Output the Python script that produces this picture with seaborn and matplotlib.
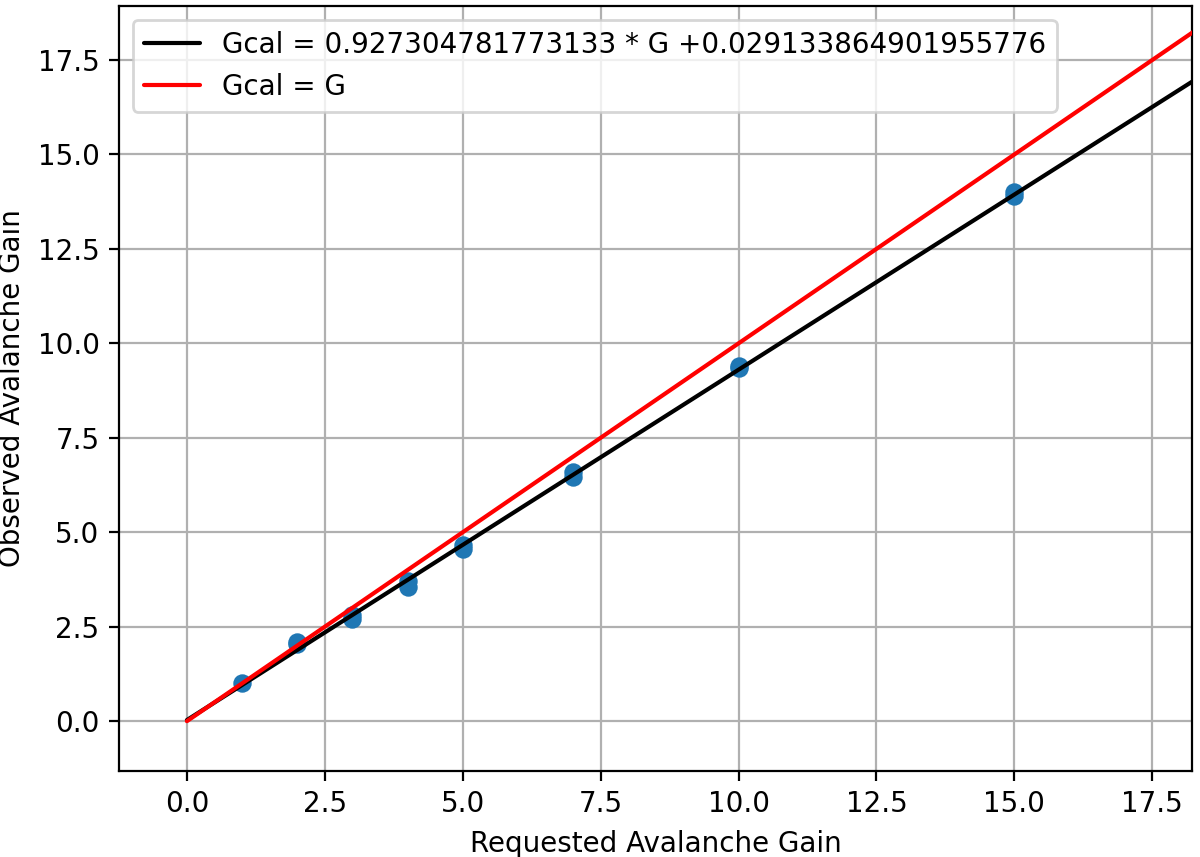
import numpy as np
import pandas as pd
import matplotlib
matplotlib.use("Agg")
import matplotlib.pyplot as plt
import seaborn as sns

# measured points (requested gain vs observed gain)
requested_gain = [1, 2, 2, 3, 3, 4, 4, 5, 5, 7, 7, 10, 10, 15, 15]
observed_gain = [1.0, 2.05, 2.1, 2.8, 2.7, 3.7, 3.55, 4.65, 4.55, 6.6, 6.45, 9.4, 9.35, 14.0, 13.9]

# fit coefficients from the legend
slope = 0.927304781773133
intercept = 0.029133864901955776
line_gain = [0, 20]

sns.set_style("ticks")
plt.rcParams['font.family'] = ['DejaVu Sans']
plt.rcParams['font.size'] = 10
plt.rcParams['text.color'] = 'black'
plt.rcParams['axes.labelcolor'] = 'black'

df = pd.DataFrame({'G': requested_gain, 'Gobs': observed_gain})
g_line = np.array(line_gain, dtype=float)
lines = pd.DataFrame({'G': g_line, 'fit': slope * g_line + intercept, 'ident': g_line})

fig = plt.figure(figsize=(6.0, 4.285), dpi=200)
ax = fig.add_axes([0.0992, 0.1003, 0.8941, 0.8927])

sns.scatterplot(data=df, x='G', y='Gobs', ax=ax, color='#1f77b4', s=44, linewidth=0, zorder=2)
sns.lineplot(data=lines, x='G', y='fit', ax=ax, color='black', lw=1.5, zorder=3,
             label='Gcal = ' + str(slope) + ' * G +' + str(intercept))
sns.lineplot(data=lines, x='G', y='ident', ax=ax, color='red', lw=1.5, zorder=3, label='Gcal = G')

ticks = np.arange(0, 17.6, 2.5)
ax.set_xlim(-1.23, 18.22)
ax.set_ylim(-1.32, 18.93)
ax.set_xticks(ticks)
ax.set_yticks(ticks)
ax.set_xticklabels([f"{v:.1f}" for v in ticks])
ax.set_yticklabels([f"{v:.1f}" for v in ticks])
ax.grid(True, color='#b0b0b0', lw=0.8)
ax.set_axisbelow(True)
for sp in ax.spines.values():
    sp.set_color('black')
    sp.set_linewidth(0.8)
ax.tick_params(colors='black', direction='out', length=3.5, width=0.8, labelsize=10)
ax.set_xlabel('Requested Avalanche Gain', fontsize=10)
ax.set_ylabel('Observed Avalanche Gain', fontsize=10)
ax.legend(loc='upper left', fontsize=10, framealpha=0.8, edgecolor='0.8', fancybox=True,
          labelcolor='black')

fig.savefig('out.png', dpi=200)
